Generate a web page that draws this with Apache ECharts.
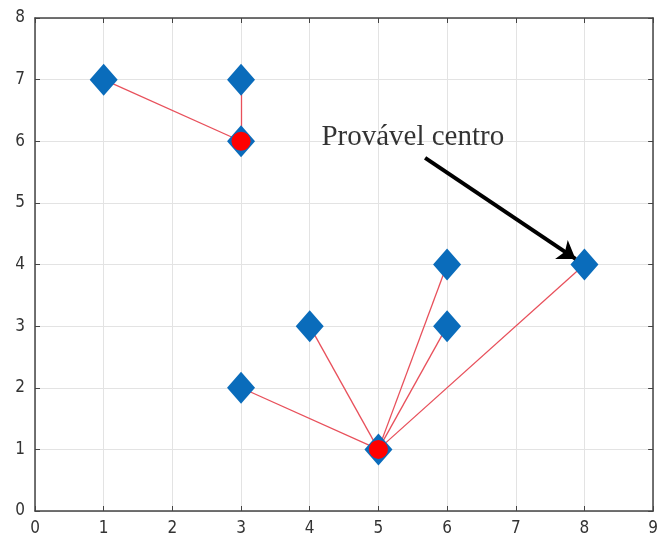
<!DOCTYPE html>
<html><head><meta charset="utf-8">
<script src="https://cdn.jsdelivr.net/npm/echarts@6/dist/echarts.min.js"></script>
<style>html,body{margin:0;padding:0;background:#fff}#c{width:661px;height:540px}</style>
</head><body><div id="c"></div>
<script>
var xTicks = [0,1,2,3,4,5,6,7,8,9];
var yTicks = [0,1,2,3,4,5,6,7,8];
var points = [[1,7],[3,7],[3,6],[3,2],[4,3],[5,1],[6,4],[6,3],[8,4]];
var assign = [0,0,0,1,1,1,1,1,1];
var centers = [[3,6],[5,1]];
var annotationText = 'Provável centro';
var annotationPos = [4.17, 6.06];
var arrowFrom = [5.68, 5.73];
var arrowTo = [7.87, 4.09];

var segs = points.map(function(p,i){ return {coords:[centers[assign[i]], p]}; });
var axisCol = '#444';
var labelStyle = {color:'#333', fontFamily:'DejaVu Sans Condensed, DejaVu Sans', fontSize:17};
function fmtX(v){ return xTicks.indexOf(v)>=0 ? String(v) : ''; }
function fmtY(v){ return yTicks.indexOf(v)>=0 ? String(v) : ''; }
var chart = echarts.init(document.getElementById('c'));
chart.setOption({
  animation:false,
  grid:{left:35,right:1,top:18,bottom:29,containLabel:false},
  xAxis:[{type:'value',min:0,max:9,interval:1,
    axisLine:{show:true,onZero:false,lineStyle:{color:axisCol,width:1.5}},
    axisTick:{show:true,inside:true,length:5,lineStyle:{color:axisCol}},
    axisLabel:Object.assign({margin:9,formatter:fmtX},labelStyle),
    splitLine:{show:true,lineStyle:{color:'#e3e3e3',width:1}}},
   {type:'value',position:'top',min:0,max:9,interval:1,
    axisLine:{show:true,onZero:false,lineStyle:{color:axisCol,width:1.5}},
    axisTick:{show:true,inside:true,length:5,lineStyle:{color:axisCol}},
    axisLabel:{show:false},splitLine:{show:false}}],
  yAxis:[{type:'value',min:0,max:8,interval:1,
    axisLine:{show:true,onZero:false,lineStyle:{color:axisCol,width:1.5}},
    axisTick:{show:true,inside:true,length:5,lineStyle:{color:axisCol}},
    axisLabel:Object.assign({margin:10,formatter:fmtY},labelStyle),
    splitLine:{show:true,lineStyle:{color:'#e3e3e3',width:1}}},
   {type:'value',position:'right',min:0,max:8,interval:1,
    axisLine:{show:true,onZero:false,lineStyle:{color:axisCol,width:1.5}},
    axisTick:{show:true,inside:true,length:5,lineStyle:{color:axisCol}},
    axisLabel:{show:false},splitLine:{show:false}}],
  series:[
    {type:'lines',coordinateSystem:'cartesian2d',data:segs,
     lineStyle:{color:'#e8505b',width:1.3,opacity:1},symbol:'none',z:2},
    {type:'scatter',data:points,symbol:'diamond',symbolSize:[28,32],
     itemStyle:{color:'#0a6cbb',opacity:1},z:3},
    {type:'scatter',data:centers,symbol:'circle',symbolSize:19,
     itemStyle:{color:'#ff0000',opacity:1},z:4},
    {type:'lines',coordinateSystem:'cartesian2d',data:[{coords:[arrowFrom,arrowTo]}],
     symbol:['none','arrow'],symbolSize:17,lineStyle:{color:'#000',width:4,opacity:1},z:5},
    {type:'scatter',data:[annotationPos],symbolSize:0,silent:true,z:6,
     label:{show:true,position:'right',distance:0,formatter:annotationText,
       color:'#000',fontFamily:'Liberation Serif',fontSize:29}}
  ]
});
</script></body></html>
